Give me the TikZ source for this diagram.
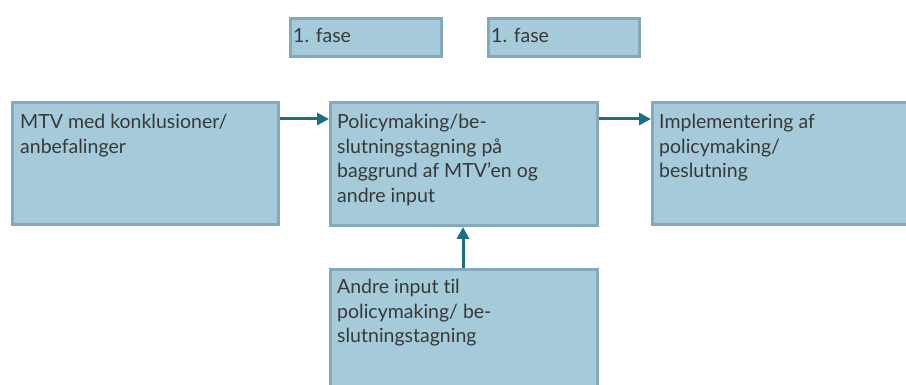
\documentclass[tikz,border=0pt]{standalone}
\usepackage{fontspec}
\setmainfont{Lato}[Ligatures=NoCommon]
\usetikzlibrary{arrows.meta}
\definecolor{boxfill}{HTML}{A5CBDB}
\definecolor{boxline}{HTML}{84A9BA}
\definecolor{arrowcol}{HTML}{1A6E85}
\definecolor{txt}{HTML}{383838}
\tikzset{
  stagebox/.style={draw=boxline, fill=boxfill, line width=3pt, rectangle,
    inner sep=0pt, anchor=north west},
  boxtext/.style={anchor=north west, inner sep=0pt, text=txt, align=left,
    font=\fontsize{19.5}{24.5}\selectfont},
  flow/.style={draw=arrowcol, line width=3pt,
    -{Triangle[length=12pt,width=12pt]}},
}
\begin{document}
\begin{tikzpicture}[x=1pt,y=-1pt]
  \useasboundingbox (0,0) rectangle (906,385);
  \clip (0,0) rectangle (906,385);
  % phase labels
  \node[stagebox, minimum width=151pt, minimum height=38pt] (f1) at (289,17) {};
  \node[stagebox, minimum width=151pt, minimum height=38pt] (f2) at (487,17) {};
  \node[boxtext] (f1t) at (293,28) {1. fase};
  \node[boxtext] (f2t) at (491,28) {1. fase};
  % main boxes
  \node[stagebox, minimum width=266pt, minimum height=122pt] (a) at (11,101) {};
  \node[stagebox, minimum width=267pt, minimum height=123pt] (b) at (329,101) {};
  \node[stagebox, minimum width=280pt, minimum height=122pt] (c) at (651,101) {};
  \node[stagebox, minimum width=267pt, minimum height=140pt] (d) at (329,268) {};
  % texts
  \node[boxtext] (at) at (20,114) {MTV med konklusioner/\\anbefalinger};
  \node[boxtext] (bt) at (337,114) {Policymaking/be-\\slutningstagning på\\baggrund af MTV’en og\\andre input};
  \node[boxtext] (ct) at (659,114) {Implementering af\\policymaking/\\beslutning};
  \node[boxtext] (dt) at (337,279) {Andre input til\\policymaking/ be-\\slutningstagning};
  % connectors
  \draw[flow] (a.east |- 0,119) -- (b.west |- 0,119);
  \draw[flow] (b.east |- 0,119) -- (c.west |- 0,119);
  \draw[flow] (d.north -| 463,0) -- (b.south -| 463,0);
\end{tikzpicture}
\end{document}
